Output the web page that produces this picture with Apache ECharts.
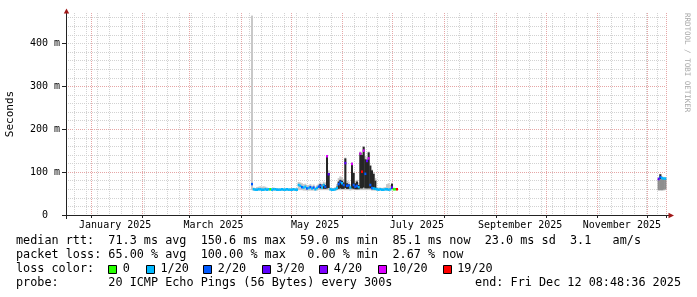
<!DOCTYPE html>
<html><head><meta charset="utf-8">
<script src="https://cdn.jsdelivr.net/npm/echarts@6/dist/echarts.min.js"></script>
<style>html,body{margin:0;padding:0;background:#fff}#c{width:697px;height:297px}</style>
</head><body><div id="c"></div>
<script>
// ---- axis definition ----
const axisStartUTC = [2024, 11, 17];   // 2024-12-17, 360 day window
const axisDays = 360;
const yMax = 471;                        // ms
const yTicks = [0, 100, 200, 300, 400];
const monthNames = {1:'January', 3:'March', 5:'May', 7:'July', 9:'September', 11:'November'};

// ---- data (one value per day, ms) ----
const dates = [
 '2025-04-07','2025-04-08','2025-04-09','2025-04-10','2025-04-11','2025-04-12','2025-04-13','2025-04-14','2025-04-15','2025-04-16','2025-04-17','2025-04-18',
 '2025-04-19','2025-04-20','2025-04-21','2025-04-22','2025-04-23','2025-04-24','2025-04-25','2025-04-26','2025-04-27','2025-04-28','2025-04-29','2025-04-30',
 '2025-05-01','2025-05-02','2025-05-03','2025-05-04','2025-05-05','2025-05-06','2025-05-07','2025-05-08','2025-05-09','2025-05-10','2025-05-11','2025-05-12',
 '2025-05-13','2025-05-14','2025-05-15','2025-05-16','2025-05-17','2025-05-18','2025-05-19','2025-05-20','2025-05-21','2025-05-22','2025-05-23','2025-05-24',
 '2025-05-25','2025-05-26','2025-05-27','2025-05-28','2025-05-29','2025-05-30','2025-05-31',
 '2025-06-01','2025-06-02','2025-06-03','2025-06-04','2025-06-05','2025-06-06','2025-06-07','2025-06-08','2025-06-09','2025-06-10','2025-06-11','2025-06-12',
 '2025-06-13','2025-06-14','2025-06-15','2025-06-16','2025-06-17','2025-06-18','2025-06-19','2025-06-20','2025-06-21','2025-06-22','2025-06-23','2025-06-24',
 '2025-06-25','2025-06-26','2025-06-27','2025-06-28','2025-06-29','2025-06-30',
 '2025-07-01','2025-07-02','2025-07-03',
 '2025-12-07','2025-12-08','2025-12-09','2025-12-10','2025-12-11'
];
const median = [
 72,60,59,59,60,60,59,59,60,59,60,60,59,60,60,59,59,59,60,59,59,60,59,59,
 59,60,59,59,70,68,65,64,66,62,63,65,62,64,60,63,66,68,64,70,66,137,95,60,59,59,60,63,72,77,74,
 70,121,68,69,64,119,70,66,68,65,143,101,150,96,126,132,70,63,62,61,60,59,60,59,59,60,60,59,60,64,
 60,60,60,
 84,88,86,85,85
];
const lossPings = [
 2,1,1,1,1,1,1,1,1,1,1,0,1,1,1,1,1,1,1,1,1,1,1,1,
 1,1,1,1,1,1,2,1,1,2,1,2,1,2,1,1,2,2,1,1,2,10,3,1,1,1,1,1,2,2,1,
 2,3,2,2,1,10,2,2,2,1,10,19,10,2,3,10,2,2,1,1,1,1,1,1,1,1,1,1,1,3,
 0,0,19,
 3,2,1,1,1
];
const smokeLo = [
 58,57,57,57,57,57,57,57,57,57,57,58,57,57,57,57,57,57,57,57,57,57,57,57,
 57,57,57,57,58,58,58,57,57,57,57,57,57,57,57,57,58,58,58,58,58,58,58,57,57,57,57,58,58,58,58,
 58,58,58,58,57,58,58,58,58,58,58,58,58,58,58,58,58,57,57,57,57,57,57,57,57,57,57,57,57,58,
 58,58,58,
 57,57,57,57,58
];
const smokeHi = [
 465,64,63,65,66,67,66,67,66,64,63,62,63,64,62,63,62,62,63,62,62,63,62,62,
 63,62,62,63,77,76,74,72,73,70,70,72,68,71,66,69,73,76,72,78,76,140,104,64,63,63,65,72,86,90,88,
 84,134,80,78,72,123,100,80,82,76,148,145,161,138,132,148,117,106,100,86,65,64,64,63,64,65,72,74,70,75,
 64,63,63,
 88,96,90,89,88
];
const N = null;
const midLo = [
 N,N,N,N,N,N,N,N,N,N,N,N,N,N,N,N,N,N,N,N,N,N,N,N,
 N,N,N,N,N,N,N,N,N,N,N,N,N,N,N,N,N,N,N,N,N,N,N,N,N,N,N,N,N,N,N,
 N,N,N,N,N,N,N,N,N,N,N,N,N,N,N,N,N,N,N,N,N,N,N,N,N,N,N,N,N,N,
 N,N,N,
 58,58,58,59,60
];
const midHi = [
 N,N,N,N,N,N,N,N,N,N,N,N,N,N,N,N,N,N,N,N,N,N,N,N,
 N,N,N,N,N,N,N,N,N,N,N,N,N,N,N,N,N,N,N,N,N,N,N,N,N,N,N,N,N,N,N,
 N,N,N,N,N,N,N,N,N,N,N,N,N,N,N,N,N,N,N,N,N,N,N,N,N,N,N,N,N,N,
 N,N,N,
 84,86,86,85,84
];
const coreLo = [
 N,N,N,N,N,N,N,N,N,N,N,N,N,N,N,N,N,N,N,N,N,N,N,N,
 N,N,N,N,N,N,N,N,N,N,N,N,N,N,N,N,N,62,N,61,61,62,63,N,N,N,N,60,61,62,61,
 61,63,61,61,N,62,61,60,60,60,62,62,64,62,62,62,62,60,60,59,N,N,N,N,N,N,N,N,N,61,
 N,N,N,
 N,84,N,N,N
];
const coreHi = [
 N,N,N,N,N,N,N,N,N,N,N,N,N,N,N,N,N,N,N,N,N,N,N,N,
 N,N,N,N,N,N,N,N,N,N,N,N,N,N,N,N,N,72,N,72,70,138,98,N,N,N,N,66,78,82,80,
 76,132,74,72,N,121,98,74,78,70,145,140,159,130,128,146,115,104,96,80,N,N,N,N,N,N,N,N,N,73,
 N,N,N,
 N,95,N,N,N
];

// ---- loss colour legend ----
const lossLevels = [0, 1, 2, 3, 4, 10, 19];
const lossLabels = ['0', '1/20', '2/20', '3/20', '4/20', '10/20', '19/20'];
const lossColors = ['#26ff00', '#00b8ff', '#0059ff', '#5e00ff', '#7e00ff', '#dd00ff', '#ff0000'];

// ---- legend text ----
const statLine1 = 'median rtt:  71.3 ms avg  150.6 ms max  59.0 ms min  85.1 ms now  23.0 ms sd  3.1   am/s';
const statLine2 = 'packet loss: 65.00 % avg  100.00 % max   0.00 % min  2.67 % now';
const lossTitle = 'loss color:';
const probeLine = 'probe:       20 ICMP Echo Pings (56 Bytes) every 300s';
const endLine = 'end: Fri Dec 12 08:48:36 2025';
const yTitle = 'Seconds';
const watermark = 'RRDTOOL / TOBI OETIKER';

// ---- build categories (one per day) ----
const categories = [];
const t0 = Date.UTC(axisStartUTC[0], axisStartUTC[1], axisStartUTC[2]);
for (let i = 0; i < axisDays; i++) categories.push(new Date(t0 + i * 86400000).toISOString().slice(0, 10));
const dayIdx = d => categories.indexOf(d);
const isSunday = v => new Date(v + 'T00:00:00Z').getUTCDay() === 0;
const isMonthStart = v => v.slice(8) === '01';
const isLabelDay = v => v.slice(8) === '15' && !!monthNames[+v.slice(5, 7)];

const MONO = '"DejaVu Sans Mono", monospace';

function band(lo, hi, color) {
  const data = [];
  dates.forEach((d, i) => { if (lo[i] != null && hi[i] != null) data.push([dayIdx(d), lo[i], hi[i]]); });
  return {
    type: 'custom', xAxisIndex: 1, yAxisIndex: 1, silent: true, animation: false,
    encode: {x: 0, y: [1, 2]}, data,
    renderItem(params, api) {
      const x = api.value(0);
      const a = api.coord([x, api.value(1)]);
      const b = api.coord([x, api.value(2)]);
      const w = api.size([1, 0])[0];
      return {type: 'rect', shape: {x: a[0] - w / 2, y: b[1], width: w + 0.35, height: Math.max(a[1] - b[1], 0.6)}, style: {fill: color}};
    }
  };
}

const medianSeries = {
  type: 'custom', xAxisIndex: 1, yAxisIndex: 1, silent: true, animation: false,
  encode: {x: 0, y: 1},
  data: dates.map((d, i) => [dayIdx(d), median[i], lossPings[i]]),
  renderItem(params, api) {
    const x = api.value(0);
    const p = api.coord([x, api.value(1)]);
    const w = api.size([1, 0])[0];
    const c = lossColors[lossLevels.indexOf(api.value(2))];
    return {type: 'rect', shape: {x: p[0] - w / 2, y: p[1] - 1.25, width: w + 0.35, height: 2.5}, style: {fill: c}};
  }
};

const txt = (x, y, s, extra) => ({type: 'text', x: x, y: y, silent: true, z: 100,
  style: Object.assign({text: s, x: 0, y: 0, fill: '#000', font: '11.8px ' + MONO, textAlign: 'left', textVerticalAlign: 'middle'}, extra || {})});

const graphics = [
  // axes
  {type: 'line', z: 100, silent: true, shape: {x1: 66.5, y1: 12, x2: 66.5, y2: 219}, style: {stroke: '#222', lineWidth: 1}},
  {type: 'line', z: 100, silent: true, shape: {x1: 62, y1: 215.5, x2: 669, y2: 215.5}, style: {stroke: '#222', lineWidth: 1}},
  {type: 'polygon', z: 101, silent: true, shape: {points: [[63.8, 13.5], [69.2, 13.5], [66.5, 8.5]]}, style: {fill: '#a01818'}},
  {type: 'polygon', z: 101, silent: true, shape: {points: [[668.5, 212.8], [668.5, 218.2], [674, 215.5]]}, style: {fill: '#a01818'}},
  // legend text
  txt(16, 241, statLine1),
  txt(16, 255.3, statLine2),
  txt(16, 269.3, lossTitle),
  txt(16, 283.3, probeLine),
  txt(681, 283.3, endLine, {textAlign: 'right'}),
  // watermark
  {type: 'text', x: 687, y: 13, rotation: -Math.PI / 2, silent: true, z: 100,
   style: {text: watermark, x: 0, y: 0, fill: '#a8a8a8', font: '7.5px ' + MONO, textAlign: 'left', textVerticalAlign: 'middle'}}
];
const boxX = [108.3, 146, 203.3, 261.7, 319.3, 377.7, 442.7];
lossLabels.forEach((lab, i) => {
  graphics.push({type: 'rect', z: 100, silent: true, shape: {x: Math.round(boxX[i]) + 0.5, y: 265.5, width: 8, height: 8},
                 style: {fill: lossColors[i], stroke: '#000', lineWidth: 1}});
  graphics.push(txt(boxX[i] + 14.5, 269.3, lab));
});

const chart = echarts.init(document.getElementById('c'), null, {renderer: 'canvas'});
chart.setOption({
  animation: false,
  backgroundColor: '#ffffff',
  grid: {left: 66, top: 13, width: 600, height: 202, containLabel: false, outerBoundsMode: 'none'},
  xAxis: [
    {type: 'category', data: categories, boundaryGap: true, position: 'bottom',
     axisLine: {show: false}, axisTick: {show: false}, axisLabel: {show: false},
     splitLine: {show: true, interval: (i, v) => isSunday(v), lineStyle: {color: '#d2d2d2', width: 1, type: [1, 1]}}},
    {type: 'category', data: categories, boundaryGap: true, position: 'bottom',
     axisLine: {show: false},
     axisTick: {show: true, interval: (i, v) => isMonthStart(v), length: 3, lineStyle: {color: '#222'}},
     axisLabel: {show: true, interval: (i, v) => isLabelDay(v),
                 formatter: v => monthNames[+v.slice(5, 7)] + ' ' + v.slice(0, 4),
                 fontFamily: MONO, fontSize: 10, color: '#000', margin: 5},
     splitLine: {show: true, interval: (i, v) => isMonthStart(v), lineStyle: {color: '#e6a6a6', width: 1, type: [1, 1]}}}
  ],
  yAxis: [
    {type: 'value', min: 0, max: yMax, interval: 20, position: 'left',
     axisLine: {show: false}, axisTick: {show: false}, axisLabel: {show: false},
     splitLine: {show: true, showMinLine: false, showMaxLine: false, lineStyle: {color: '#d2d2d2', width: 1, type: [1, 1]}}},
    {type: 'value', min: 0, max: yMax, interval: 100, position: 'left',
     name: yTitle, nameLocation: 'middle', nameRotate: 90, nameGap: 50,
     nameTextStyle: {fontFamily: MONO, fontSize: 11, color: '#000'},
     axisLine: {show: false},
     axisTick: {show: true, length: 4, customValues: yTicks, lineStyle: {color: '#222'}},
     axisLabel: {customValues: yTicks, fontFamily: MONO, fontSize: 10, color: '#000', margin: 6,
                 formatter: v => v === 0 ? '0  ' : (v % 100 === 0 ? v + ' m' : '')},
     splitLine: {show: true, showMinLine: false, showMaxLine: false, lineStyle: {color: '#e6a6a6', width: 1, type: [1, 1]}}}
  ],
  series: [
    band(smokeLo, smokeHi, '#c8c8c8'),
    band(midLo, midHi, '#8e8e8e'),
    band(coreLo, coreHi, '#262626'),
    medianSeries
  ],
  graphic: graphics
});
</script></body></html>
